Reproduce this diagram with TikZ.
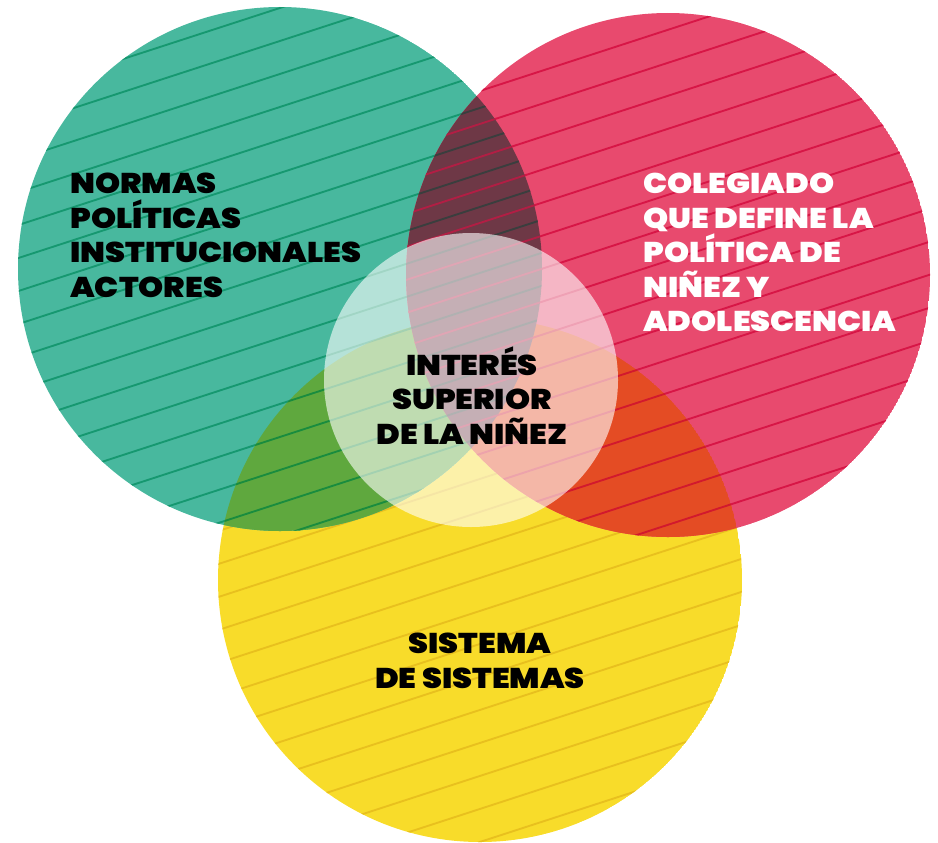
\documentclass[tikz,border=0pt]{standalone}
\usepackage{fontspec}
\newfontfamily\vennfont{Poppins Black}[FakeStretch=1.12]
\usetikzlibrary{positioning}

\definecolor{tealfill}{RGB}{72,184,158}
\definecolor{tealline}{RGB}{22,152,112}
\definecolor{redfill}{RGB}{232,74,110}
\definecolor{redline}{RGB}{215,22,70}
\definecolor{yelfill}{RGB}{248,220,42}
\definecolor{yelline}{RGB}{232,192,30}
\definecolor{greenfill}{RGB}{95,168,62}
\definecolor{greenline}{RGB}{25,140,62}
\definecolor{orangefill}{RGB}{228,76,36}
\definecolor{orangeline}{RGB}{210,25,45}
\definecolor{maroonfill}{RGB}{110,56,70}
\definecolor{maroonteal}{RGB}{58,62,62}
\definecolor{maroonred}{RGB}{178,30,68}

\tikzset{
  stripe/.style={line width=1.4pt},
  vennlabel/.style={inner sep=0pt, font=\vennfont\fontsize{21.4}{25.9}\selectfont},
}

% parallel stripes over the whole picture, to be clipped
\newcommand\vennstripes[2]{%
  \foreach \k in {0,...,36}
    \draw[stripe,#2] (0,\k*33+#1) -- (938,\k*33+#1-305);
}

\begin{document}
\begin{tikzpicture}[x=0.75pt,y=0.75pt,yscale=-1,xscale=1]
\useasboundingbox (0,0) rectangle (938,842);

\coordinate (yelc) at (480,580);
\coordinate (tealc) at (280,269);
\coordinate (redc) at (668,275);

% single circles
\begin{scope}
  \clip (yelc) circle (262);
  \fill[yelfill] (yelc) circle (262);
  \vennstripes{8}{yelline}
\end{scope}
\begin{scope}
  \clip (tealc) circle (262);
  \fill[tealfill] (tealc) circle (262);
  \vennstripes{0}{tealline}
\end{scope}
\begin{scope}
  \clip (redc) circle (262);
  \fill[redfill] (redc) circle (262);
  \vennstripes{16}{redline}
\end{scope}

% overlaps
\begin{scope}
  \clip (tealc) circle (262);
  \clip (yelc) circle (262);
  \fill[greenfill] (yelc) circle (262);
  \vennstripes{0}{greenline}
\end{scope}
\begin{scope}
  \clip (redc) circle (262);
  \clip (yelc) circle (262);
  \fill[orangefill] (yelc) circle (262);
  \vennstripes{16}{orangeline}
\end{scope}
\begin{scope}
  \clip (tealc) circle (262);
  \clip (redc) circle (262);
  \fill[maroonfill] (redc) circle (262);
  \vennstripes{0}{maroonteal}
  \vennstripes{16}{maroonred}
\end{scope}

% centre circle
\fill[white, opacity=0.6] (471,380) circle (147);

% Text Node
\node[vennlabel, anchor=north west, align=left] (normas) at (70,173) {NORMAS\\POLÍTICAS\\INSTITUCIONALES\\ACTORES};
% Text Node
\node[vennlabel, anchor=north west, align=left, text=white] (colegiado) at (643,173) {COLEGIADO\\QUE DEFINE LA\\POLÍTICA DE\\NIÑEZ Y\\ADOLESCENCIA};
% Text Node
\node[vennlabel, anchor=north, align=center] (interes) at (472,346) {INTERÉS\\SUPERIOR\\DE LA NIÑEZ};
% Text Node
\node[vennlabel, anchor=north, align=center] (sistema) at (480,633) {SISTEMA\\DE SISTEMAS};
\end{tikzpicture}
\end{document}
